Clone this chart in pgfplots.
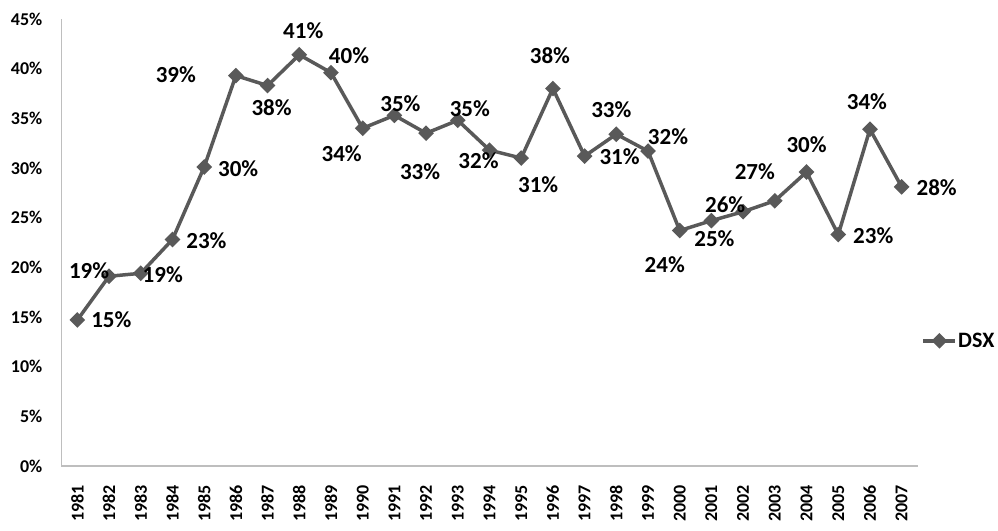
\documentclass[border=0pt]{standalone}
\usepackage{fontspec}
\setmainfont{Carlito}
\usepackage{pgfplots}
\usepackage{pgfplotstable}
\pgfplotsset{compat=1.18}
\definecolor{linegray}{HTML}{595959}
\definecolor{axgray}{HTML}{BEBEBE}
\pgfplotstableread{
x y lab dx dy
1981 14.7 15 34 0
1982 19.1 19 -20 6
1983 19.4 19 22 -1
1984 22.8 23 34 -1
1985 30.1 30 34 -2
1986 39.3 39 -60 1
1987 38.3 38 4 -22
1988 41.4 41 4 24
1989 39.6 40 18 17
1990 34.0 34 -21 -25
1991 35.3 35 6 12
1992 33.5 33 -6 -38
1993 34.8 35 12 12
1994 31.8 32 -11 -11
1995 31.0 31 17 -27
1996 38.0 38 -3 33
1997 31.2 31 35 -1
1998 33.4 33 -5 25
1999 31.7 32 20 14
2000 23.7 24 -15 -34
2001 24.7 25 3 -18
2002 25.6 26 -18 7
2003 26.7 27 -20 29
2004 29.6 30 0 27
2005 23.3 23 35 -1
2006 33.9 34 -3 28
2007 28.1 28 35 -1
}\datatable
\begin{document}
\begin{tikzpicture}
\path[use as bounding box] (0,0) rectangle (998pt,530pt);
\begin{axis}[
  at={(61.5pt,64pt)}, anchor=south west,
  scale only axis, width=856pt, height=447pt,
  xmin=1980.5, xmax=2007.5, ymin=0, ymax=45,
  axis x line*=bottom, axis y line*=left,
  axis line style={-, draw=axgray, line width=1.2pt},
  major tick length=0pt,
  /pgf/number format/assume math mode=true,
  ytick={0,5,...,45},
  yticklabels={0\%,5\%,10\%,15\%,20\%,25\%,30\%,35\%,40\%,45\%},
  xtick={1981,1982,...,2007},
  xticklabels={1981,1982,1983,1984,1985,1986,1987,1988,1989,1990,1991,1992,1993,1994,1995,1996,1997,1998,1999,2000,2001,2002,2003,2004,2005,2006,2007},
  y tick label style={font=\bfseries\fontsize{18}{18}\selectfont, anchor=east, inner sep=0pt, xshift=-19pt},
  x tick label style={font=\bfseries\fontsize{18}{18}\selectfont, yshift=-19pt, rotate=90, anchor=east, inner sep=0pt},
  legend style={draw=none, fill=none, at={(1,0.28)}, anchor=west, xshift=4pt,
    font=\bfseries\fontsize{22}{22}\selectfont, inner sep=0pt,
    nodes={inner sep=1pt},
    /tikz/every even column/.append style={column sep=0pt}},
  legend image code/.code={\draw[mark repeat=2, mark phase=2, #1] plot coordinates {(0pt,0pt) (16pt,0pt) (32pt,0pt)};},
  clip=false,
]
\addplot[color=linegray, line width=3.5pt, mark=square*, mark size=3.8pt,
  mark options={rotate=45, solid},
  point meta=\thisrow{lab},
  visualization depends on={\thisrow{dx}\as\mydx},
  visualization depends on={\thisrow{dy}\as\mydy},
  nodes near coords={\pgfmathprintnumber[fixed,precision=0]{\pgfplotspointmeta}\%},
  every node near coord/.append style={anchor=center, text=black, inner sep=0pt,
    font=\bfseries\fontsize{23}{23}\selectfont, xshift=\mydx pt, yshift=\mydy pt},
] table[x=x, y=y] {\datatable};
\addlegendentry{DSX}
\end{axis}
\end{tikzpicture}
\end{document}
